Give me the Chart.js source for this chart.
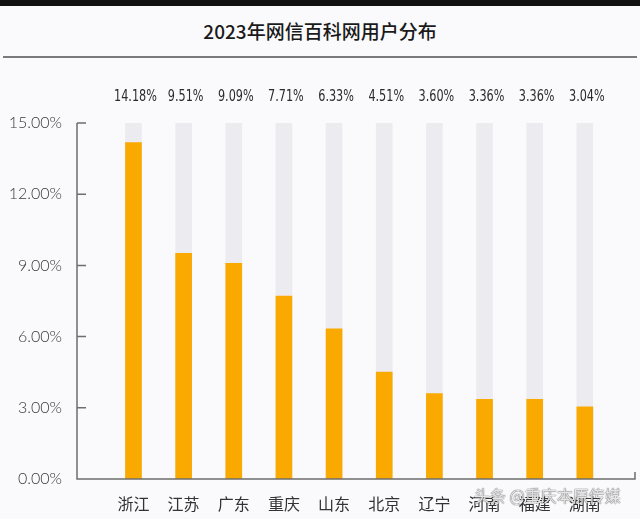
<!DOCTYPE html>
<html>
<head>
<meta charset="utf-8">
<script src="https://cdn.jsdelivr.net/npm/chart.js@4"></script>
<style>
  html, body { margin: 0; padding: 0; background: #fafafc; }
  body { width: 640px; height: 519px; position: relative; overflow: hidden; }
  .topband { position: absolute; left: 0; top: 0; width: 640px; height: 6px; background: #111; }
  .title {
    position: absolute; left: 0; top: 18px; width: 640px; text-align: center;
    font-family: "Noto Sans CJK SC", sans-serif; font-size: 19px; font-weight: 500;
    color: #1a1a1a; line-height: 25px;
  }
  .rule { position: absolute; left: 3px; top: 56px; width: 634px; height: 2px; background: #7a7a7a; }
  #wrap { position: absolute; left: 0; top: 0; width: 640px; height: 519px; }
  .mark {
    position: absolute; left: 474px; top: 483px;
    font-family: "Noto Sans CJK SC", sans-serif; font-size: 16px;
    color: rgba(255,255,255,0.85);
    text-shadow: 0 0 1px #555, 0 0 1px #555;
  }
</style>
</head>
<body>
<div class="topband"></div>
<div class="title">2023年网信百科网用户分布</div>
<div class="rule"></div>
<div id="wrap"><canvas id="chart"></canvas></div>
<div class="mark">头条 @重庆本原传媒</div>

<script>
// Data
const categories = ['浙江', '江苏', '广东', '重庆', '山东', '北京', '辽宁', '河南', '福建', '湖南'];
const shareValues = [14.18, 9.51, 9.09, 7.71, 6.33, 4.51, 3.60, 3.36, 3.36, 3.04];
const trackValues = [15, 15, 15, 15, 15, 15, 15, 15, 15, 15];
const yTicks = [0, 3, 6, 9, 12, 15];

const axisColor = '#6e6e6e';

// axis line with inward ticks, plus value labels above the plot
const decorations = {
    id: 'decorations',
    afterDraw(chart) {
        const ctx = chart.ctx;
        const area = chart.chartArea;
        const y = chart.scales.y;
        ctx.save();
        ctx.strokeStyle = axisColor;
        ctx.lineWidth = 1.5;
        ctx.beginPath();
        ctx.moveTo(area.left, area.top);
        ctx.lineTo(area.left, area.bottom);
        ctx.lineTo(area.right, area.bottom);
        ctx.lineTo(area.right, area.bottom - 7);
        yTicks.forEach(v => {
            const py = y.getPixelForValue(v);
            ctx.moveTo(area.left, py);
            ctx.lineTo(area.left + 9, py);
        });
        ctx.stroke();

        // value labels, squeezed to look condensed
        const meta = chart.getDatasetMeta(1);
        ctx.fillStyle = '#2b2b2b';
        ctx.font = '16px "Liberation Sans Narrow", "DejaVu Sans Condensed", sans-serif';
        ctx.textAlign = 'center';
        ctx.textBaseline = 'middle';
        meta.data.forEach((bar, i) => {
            ctx.save();
            ctx.translate(bar.x + 2, 97);
            ctx.scale(0.78, 1);
            ctx.fillText(shareValues[i].toFixed(2) + '%', 0, 0);
            ctx.restore();
        });
        ctx.restore();
    }
};

function createChart() {
    const ctx = document.getElementById('chart').getContext('2d');

    new Chart(ctx, {
        type: 'bar',
        data: {
            datasets: [{
                label: 'track',
                data: trackValues.map((v, i) => ({ x: i, y: v })),
                backgroundColor: '#ececf0',
                barThickness: 16,
                grouped: false,
                order: 2
            },
            {
                label: '用户占比',
                data: shareValues.map((v, i) => ({ x: i, y: v })),
                backgroundColor: '#f9a900',
                barThickness: 16,
                grouped: false,
                order: 1
            }]
        },
        options: {
            responsive: true,
            maintainAspectRatio: false,
            animation: false,
            layout: {
                padding: { top: 123, right: 5, left: 0, bottom: 0 }
            },
            plugins: {
                legend: { display: false },
                tooltip: { enabled: false }
            },
            scales: {
                x: {
                    type: 'linear',
                    min: -1.126,
                    max: 10,
                    offset: false,
                    grid: { display: false },
                    border: { display: false },
                    afterBuildTicks(scale) {
                        scale.ticks = categories.map((c, i) => ({ value: i }));
                    },
                    afterFit(scale) {
                        scale.height = 40;
                    },
                    ticks: {
                        autoSkip: false,
                        maxRotation: 0,
                        padding: 7,
                        color: '#333',
                        font: { family: '"Noto Sans CJK SC", sans-serif', size: 16 },
                        callback: v => categories[v]
                    }
                },
                y: {
                    min: 0,
                    max: 15,
                    grid: { display: false },
                    border: { display: false },
                    afterBuildTicks(scale) {
                        scale.ticks = yTicks.map(v => ({ value: v }));
                    },
                    afterFit(scale) {
                        scale.width = 77;
                    },
                    ticks: {
                        padding: 7,
                        color: '#3a3a3a',
                        font: { family: 'Lato, "Liberation Sans", sans-serif', size: 16, weight: '300' },
                        callback: v => v.toFixed(2) + '%'
                    }
                }
            }
        },
        plugins: [decorations]
    });
}

createChart();
</script>
</body>
</html>
